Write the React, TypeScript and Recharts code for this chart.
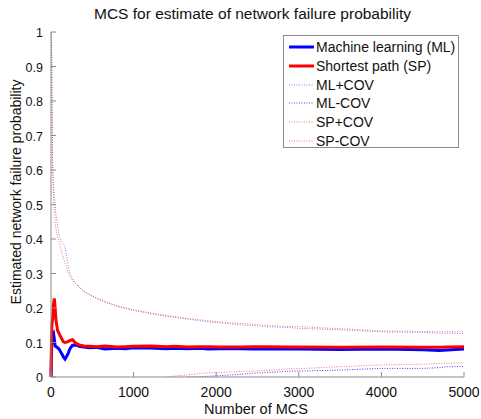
import { LineChart, Line, XAxis, YAxis } from "recharts";

// number of Monte Carlo samples where each estimate was read
const mcs = [
  1, 5, 10, 20, 30, 40, 50, 60, 80, 100, 120, 150, 170, 190, 210, 230, 260, 300, 350, 400, 470, 550,
  650, 800, 900, 1000, 1200, 1400, 1500, 1650, 1800, 1900, 2050, 2300, 2450, 2600, 2900, 3000, 3500,
  4000, 4500, 4700, 4800, 5000,
];

const mlEst = [
  0, 0.06, 0.1, 0.125, 0.128, 0.11, 0.09, 0.088, 0.085, 0.08, 0.072, 0.058, 0.052, 0.06, 0.07, 0.082,
  0.092, 0.093, 0.088, 0.087, 0.085, 0.086, 0.081, 0.083, 0.082, 0.085, 0.084, 0.082, 0.083, 0.082,
  0.083, 0.081, 0.082, 0.082, 0.081, 0.081, 0.082, 0.081, 0.08, 0.081, 0.079, 0.077, 0.078, 0.081,
];

const spEst = [
  0, 0.09, 0.15, 0.17, 0.21, 0.228, 0.2, 0.165, 0.135, 0.125, 0.115, 0.102, 0.1, 0.101, 0.103, 0.106,
  0.108, 0.098, 0.092, 0.09, 0.089, 0.088, 0.09, 0.087, 0.088, 0.089, 0.09, 0.088, 0.089, 0.087, 0.088,
  0.088, 0.087, 0.087, 0.088, 0.088, 0.087, 0.087, 0.086, 0.087, 0.086, 0.086, 0.087, 0.088,
];

const mlPlus = [
  null, 1.0, 0.9, 0.62, 0.56, 0.52, 0.5, 0.47, 0.44, 0.41, 0.395, 0.385, 0.377, 0.35, 0.32, 0.3, 0.285,
  0.27, 0.258, 0.248, 0.238, 0.228, 0.218, 0.205, 0.199, 0.193, 0.184, 0.176, 0.173, 0.168, 0.163, 0.16,
  0.157, 0.151, 0.149, 0.146, 0.143, 0.141, 0.137, 0.131, 0.129, 0.127, 0.127, 0.126,
];

const spPlus = [
  null, 1.0, 0.85, 0.6, 0.52, 0.48, 0.45, 0.43, 0.405, 0.39, 0.37, 0.345, 0.33, 0.315, 0.3, 0.29, 0.28,
  0.27, 0.258, 0.248, 0.239, 0.229, 0.219, 0.206, 0.2, 0.195, 0.186, 0.178, 0.175, 0.17, 0.166, 0.163,
  0.16, 0.155, 0.153, 0.15, 0.146, 0.146, 0.14, 0.134, 0.132, 0.131, 0.131, 0.131,
];

const mlMinus = [
  null, null, null, null, null, null, null, null, null, null, null, null, null, null, null, null, null,
  null, null, null, null, null, null, null, null, null, null, null, null, 0, 0.001, 0.002, 0.004, 0.008,
  0.011, 0.013, 0.017, 0.017, 0.02, 0.025, 0.025, 0.027, 0.03, 0.03,
];

const spMinus = [
  null, null, null, null, null, null, null, null, null, null, null, null, null, null, null, null, null,
  null, null, null, null, null, null, null, null, null, null, 0, 0.003, 0.006, 0.01, 0.012, 0.013, 0.016,
  0.017, 0.019, 0.024, 0.024, 0.03, 0.035, 0.037, 0.039, 0.04, 0.041,
];

const xTicks = [0, 1000, 2000, 3000, 4000, 5000];
const yTicks = [0, 0.1, 0.2, 0.3, 0.4, 0.5, 0.6, 0.7, 0.8, 0.9, 1];

const data = mcs.map((n, i) => ({
  n,
  ml: mlEst[i],
  sp: spEst[i],
  mlPlus: mlPlus[i],
  mlMinus: mlMinus[i],
  spPlus: spPlus[i],
  spMinus: spMinus[i],
}));

const series = [
  { key: "ml", name: "Machine learning (ML)", color: "#0000ff", width: 3, dash: undefined, opacity: 1 },
  { key: "sp", name: "Shortest path (SP)", color: "#ff0000", width: 3, dash: undefined, opacity: 1 },
  { key: "mlPlus", name: "ML+COV", color: "#0000ff", width: 1, dash: "1 1.5", opacity: 0.5 },
  { key: "mlMinus", name: "ML-COV", color: "#0000ff", width: 1, dash: "1 1.5", opacity: 0.75 },
  { key: "spPlus", name: "SP+COV", color: "#ff0000", width: 1, dash: "1 1.5", opacity: 0.55 },
  { key: "spMinus", name: "SP-COV", color: "#ff0000", width: 1, dash: "1 1.5", opacity: 0.55 },
];

const font = "'Liberation Sans', Arial, Helvetica, sans-serif";
const axisGray = "#8c8c8c";

const fmtY = (v: number) => String(Number(v.toFixed(1)));

const YTick = (props: any) => {
  const { x, y, payload } = props;
  return (
    <g>
      <line x1={x + 8} x2={x + 13} y1={y} y2={y} stroke={axisGray} />
      <text x={x} y={y + 5} textAnchor="end" fontSize={12.5} fill="#111" fontFamily={font}>
        {fmtY(payload.value)}
      </text>
    </g>
  );
};

const XTick = (props: any) => {
  const { x, y, payload } = props;
  return (
    <g>
      <line x1={x} x2={x} y1={y - 8} y2={y - 13} stroke={axisGray} />
      <text x={x} y={y + 12} textAnchor="middle" fontSize={14} fill="#111" fontFamily={font}>
        {payload.value}
      </text>
    </g>
  );
};

const LegendBox = () => (
  <div
    style={{
      position: "absolute",
      left: 283,
      top: 35,
      width: 176,
      height: 113,
      border: `1px solid ${axisGray}`,
      background: "#fff",
      paddingTop: 2,
      boxSizing: "border-box",
    }}
  >
    {series.map((s) => (
      <div key={s.key} style={{ display: "flex", alignItems: "center", height: 18.7 }}>
        <svg width={28} height={10} style={{ marginLeft: 4, marginRight: 0 }}>
          <line
            x1={1}
            x2={26}
            y1={5}
            y2={5}
            stroke={s.color}
            strokeWidth={s.width}
            strokeDasharray={s.dash}
            strokeOpacity={s.opacity}
          />
        </svg>
        <span style={{ fontSize: 14, color: "#111", fontFamily: font, whiteSpace: "nowrap" }}>{s.name}</span>
      </div>
    ))}
  </div>
);

export default function App() {
  return (
    <div style={{ position: "absolute", left: 0, top: 0, width: 481, height: 419, background: "#fff", fontFamily: font }}>
      <div style={{ position: "absolute", left: 0, top: 4, width: 505, textAlign: "center", fontSize: 15.5, lineHeight: "19px", color: "#111" }}>
        MCS for estimate of network failure probability
      </div>
      <LineChart width={481} height={419} data={data} margin={{ top: 32, right: 17, bottom: 0, left: 0 }}>
        <XAxis
          dataKey="n"
          type="number"
          domain={[0, 5000]}
          ticks={xTicks}
          height={42}
          tickSize={0}
          tickMargin={8}
          tickLine={false}
          stroke={axisGray}
          tick={<XTick />}
          interval={0}
        />
        <YAxis
          type="number"
          domain={[0, 1]}
          ticks={yTicks}
          width={51}
          tickSize={0}
          tickMargin={8}
          tickLine={false}
          stroke={axisGray}
          tick={<YTick />}
          interval={0}
          allowDataOverflow
        />
        {series.map((s) => (
          <Line
            key={s.key}
            dataKey={s.key}
            name={s.name}
            type="linear"
            stroke={s.color}
            strokeWidth={s.width}
            strokeDasharray={s.dash}
            strokeOpacity={s.opacity}
            dot={false}
            activeDot={false}
            isAnimationActive={false}
          />
        ))}
      </LineChart>
      <div style={{ position: "absolute", left: 156, top: 400, width: 200, textAlign: "center", fontSize: 14.5, lineHeight: "18px", color: "#111" }}>
        Number of MCS
      </div>
      <div
        style={{
          position: "absolute",
          left: 16 - 150,
          top: 192 - 9,
          width: 300,
          height: 18,
          lineHeight: "18px",
          textAlign: "center",
          fontSize: 14,
          color: "#111",
          transform: "rotate(-90deg)",
        }}
      >
        Estimated network failure probability
      </div>
      <LegendBox />
    </div>
  );
}
